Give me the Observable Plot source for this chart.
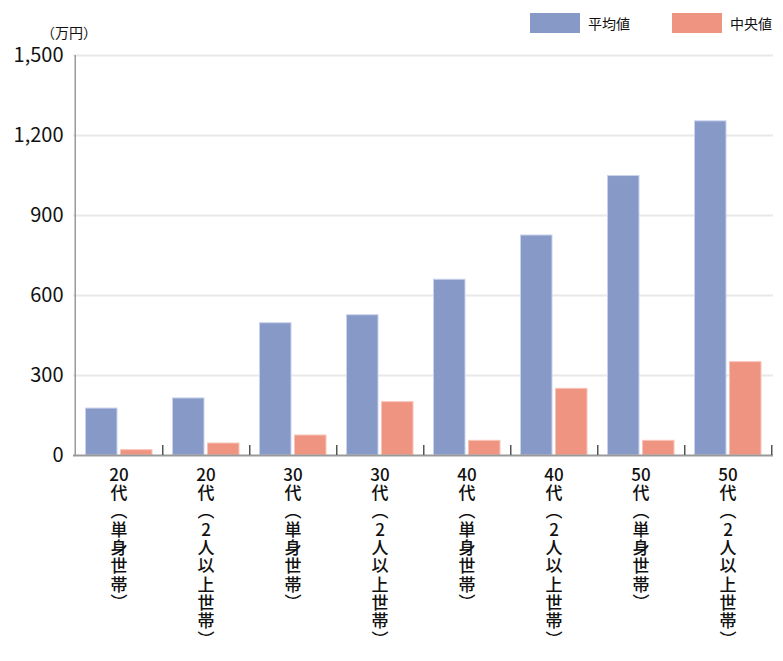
<!DOCTYPE html>
<html><head><meta charset="utf-8">
<script src="https://cdn.jsdelivr.net/npm/d3@7"></script>
<script src="https://cdn.jsdelivr.net/npm/@observablehq/plot@0.6"></script>
<style>
body{margin:0;background:#fff;font-family:"Noto Sans CJK JP","Noto Sans",sans-serif;}
#wrap{position:relative;width:783px;height:661px;}
.unit{position:absolute;left:41px;top:22px;font-size:14px;color:#111;}
.leg{position:absolute;top:13px;display:flex;align-items:center;font-size:14px;color:#111;}
.sw{width:50px;height:20px;margin-right:8px;}
</style></head>
<body><div id="wrap">
<div class="unit">（万円）</div>
<div class="leg" style="left:530px"><div class="sw" style="background:#8699c7"></div>平均値</div>
<div class="leg" style="left:672px"><div class="sw" style="background:#f09482"></div>中央値</div>
</div>
<script>
const categories = ["20代（単身世帯）","20代（2人以上世帯）","30代（単身世帯）","30代（2人以上世帯）","40代（単身世帯）","40代（2人以上世帯）","50代（単身世帯）","50代（2人以上世帯）"];
const tickLabels = ["20\n代\n︵\n単\n身\n世\n帯\n︶","20\n代\n︵\n2\n人\n以\n上\n世\n帯\n︶","30\n代\n︵\n単\n身\n世\n帯\n︶","30\n代\n︵\n2\n人\n以\n上\n世\n帯\n︶","40\n代\n︵\n単\n身\n世\n帯\n︶","40\n代\n︵\n2\n人\n以\n上\n世\n帯\n︶","50\n代\n︵\n単\n身\n世\n帯\n︶","50\n代\n︵\n2\n人\n以\n上\n世\n帯\n︶"];
const means = [176, 214, 496, 526, 659, 825, 1048, 1253];
const medians = [20, 45, 75, 200, 55, 250, 55, 350];
const yTicks = [0, 300, 600, 900, 1200, 1500];
const seriesNames = ["平均値", "中央値"];
const colors = ["#8699c7", "#f09482"];

const meanData = categories.map((c, i) => ({cat: c, v: means[i]}));
const medData = categories.map((c, i) => ({cat: c, v: medians[i]}));
const labelMap = new Map(categories.map((c, i) => [c, tickLabels[i]]));
const band = (783 - 73 - 10) / categories.length;

const chart = Plot.plot({
  width: 783, height: 661,
  marginLeft: 73, marginRight: 10, marginTop: 55, marginBottom: 206,
  style: {fontFamily: '"Noto Sans CJK JP","Noto Sans",sans-serif', color: "#111", background: "transparent"},
  x: {domain: categories, padding: 0, label: null},
  y: {domain: [0, 1500], label: null},
  marks: [
    Plot.ruleY(yTicks.filter(d => d > 0), {stroke: "#e8e8e8", strokeWidth: 2}),
    Plot.barY(meanData, {x: "cat", y: "v", fill: colors[0], stroke: "#c9d1ec", strokeWidth: 1, insetLeft: 10.5, insetRight: band - 10.5 - 32}),
    Plot.barY(medData, {x: "cat", y: "v", fill: colors[1], stroke: "#f8c4b9", strokeWidth: 1, insetLeft: 10.5 + 35, insetRight: band - 10.5 - 67}),
    Plot.ruleY([0], {stroke: "#999", strokeWidth: 2}),
    Plot.ruleX([categories[0]], {x: d => d, y1: 1500, y2: 0, dx: -band / 2, stroke: "#999", strokeWidth: 1.5}),
    Plot.ruleX(categories, {x: d => d, y1: 1500, y2: 0, dx: band / 2, insetTop: 390, stroke: "#555", strokeWidth: 1.5}),
    Plot.axisY({ticks: yTicks, tickSize: 0, tickPadding: 10, fontSize: 20, tickFormat: d => d3.format(",")(d), label: null}),
    Plot.axisX({tickSize: 0, tickPadding: 12, fontSize: 17, fontWeight: 500, lineHeight: 1.08, tickFormat: d => labelMap.get(d), label: null, lineAnchor: "top"})
  ]
});
document.getElementById("wrap").appendChild(chart);
chart.style.position = "absolute";
chart.style.left = "0";
chart.style.top = "0";
</script>
</body></html>
